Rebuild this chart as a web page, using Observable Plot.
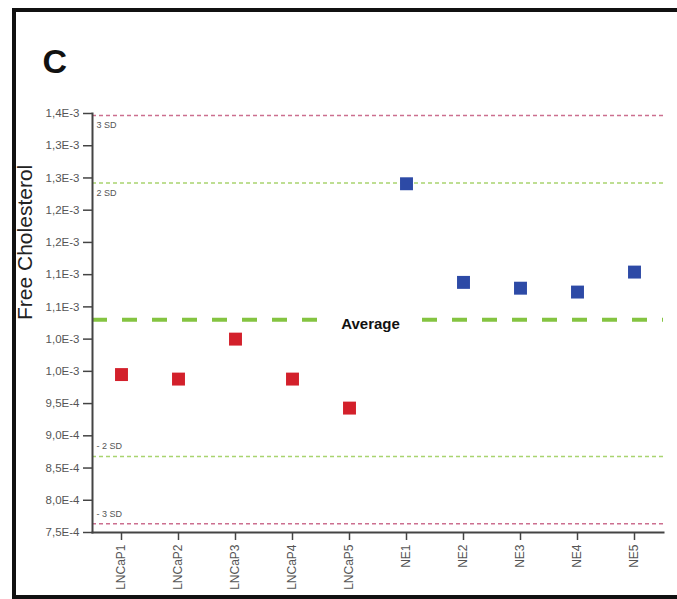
<!DOCTYPE html>
<html>
<head>
<meta charset="utf-8">
<script src="https://cdn.jsdelivr.net/npm/d3@7"></script>
<script src="https://cdn.jsdelivr.net/npm/@observablehq/plot@0.6"></script>
<style>
  html, body { margin: 0; padding: 0; background: white; overflow: hidden; }
  #wrap { position: relative; width: 677px; height: 599px; }
  #border { position: absolute; left: 12px; top: 8px; width: 720px; height: 591px;
            border: 4px solid #111; box-sizing: border-box; pointer-events: none; }
</style>
</head>
<body>
<div id="wrap"><div id="chart"></div><div id="border"></div></div>
<script>
// ---- data ----
const categories = ["LNCaP1", "LNCaP2", "LNCaP3", "LNCaP4", "LNCaP5", "NE1", "NE2", "NE3", "NE4", "NE5"];
const groups = ["LNCaP", "LNCaP", "LNCaP", "LNCaP", "LNCaP", "NE", "NE", "NE", "NE", "NE"];
const values = [0.995e-3, 0.988e-3, 1.050e-3, 0.988e-3, 0.943e-3, 1.291e-3, 1.138e-3, 1.129e-3, 1.123e-3, 1.154e-3];

const yTicks = [0.75e-3, 0.80e-3, 0.85e-3, 0.90e-3, 0.95e-3, 1.00e-3, 1.05e-3, 1.10e-3, 1.15e-3, 1.20e-3, 1.25e-3, 1.30e-3, 1.35e-3, 1.40e-3];
const yTickLabels = ["7,5E-4", "8,0E-4", "8,5E-4", "9,0E-4", "9,5E-4", "1,0E-3", "1,0E-3", "1,1E-3", "1,1E-3", "1,2E-3", "1,2E-3", "1,3E-3", "1,3E-3", "1,4E-3"];

const sdNames = ["3 SD", "2 SD", "- 2 SD", "- 3 SD"];
const sdValues = [1.397e-3, 1.292e-3, 0.868e-3, 0.7635e-3];
const averageLabel = "Average";
const averageValue = 1.080e-3;
const yLabel = "Free Cholesterol";
const panelLabel = "C";

// ---- build ----
const points = categories.map((c, i) => ({category: c, group: groups[i], value: values[i]}));
const sdLines = sdNames.map((n, i) => ({name: n, value: sdValues[i], outer: n.includes("3"), upper: sdValues[i] > averageValue}));
const fmt = (d) => {
  let best = 0;
  yTicks.forEach((t, i) => { if (Math.abs(t - d) < Math.abs(yTicks[best] - d)) best = i; });
  return yTickLabels[best];
};

const chart = Plot.plot({
  width: 677,
  height: 599,
  marginLeft: 92,
  marginRight: 14,
  marginTop: 113,
  marginBottom: 67,
  style: {fontFamily: "'Liberation Sans', Arial, sans-serif", background: "white"},
  x: {type: "point", domain: categories, padding: 0.5, label: null},
  y: {domain: [0.75e-3, 1.40e-3], label: null},
  color: {domain: ["LNCaP", "NE"], range: ["#d3202b", "#2d4aa6"]},
  marks: [
    Plot.ruleY(sdLines.filter(d => d.outer), {y: "value", stroke: "#cc6f8f", strokeWidth: 1.5, strokeDasharray: "4,3"}),
    Plot.ruleY(sdLines.filter(d => !d.outer), {y: "value", stroke: "#a9d46f", strokeWidth: 1.5, strokeDasharray: "4,3"}),
    Plot.ruleY([averageValue], {stroke: "#84c441", strokeWidth: 4, strokeDasharray: "15,15"}),
    Plot.text(sdLines.filter(d => d.upper), {
      y: "value", text: "name", frameAnchor: "left", textAnchor: "start", dx: 4,
      dy: 10, fontSize: 9, fill: "#555"
    }),
    Plot.text(sdLines.filter(d => !d.upper), {
      y: "value", text: "name", frameAnchor: "left", textAnchor: "start", dx: 4,
      dy: -10, fontSize: 9, fill: "#555"
    }),
    Plot.axisY(yTicks, {tickSize: 9, tickPadding: 4, tickFormat: fmt, fontSize: 11.5, fill: "#555", stroke: "#444", strokeWidth: 1.5, label: null}),
    Plot.axisX({tickSize: 8, tickPadding: 4, tickRotate: -90, fontSize: 12, fill: "#555", stroke: "#444", strokeWidth: 1.5, label: null}),
    Plot.frame({anchor: "left", stroke: "#444", strokeWidth: 2}),
    Plot.frame({anchor: "bottom", stroke: "#444", strokeWidth: 2}),
    Plot.dot(points, {x: "category", y: "value", fill: "group", symbol: "square", r: 7.3}),
    Plot.text([averageLabel], {
      x: () => categories[4], y: () => averageValue, text: d => d, dx: 21, dy: 4,
      fontSize: 15, fontWeight: "bold", fill: "#111", stroke: "white", strokeWidth: 44
    }),
    Plot.text([yLabel], {frameAnchor: "left", rotate: -90, dx: -67, dy: -3, fontSize: 21, fill: "#222"}),
    Plot.text([panelLabel], {frameAnchor: "top-left", textAnchor: "start", dx: -50, dy: -65, fontSize: 34, fontWeight: "bold", fill: "#111"})
  ]
});

document.getElementById("chart").appendChild(chart);
</script>
</body>
</html>
